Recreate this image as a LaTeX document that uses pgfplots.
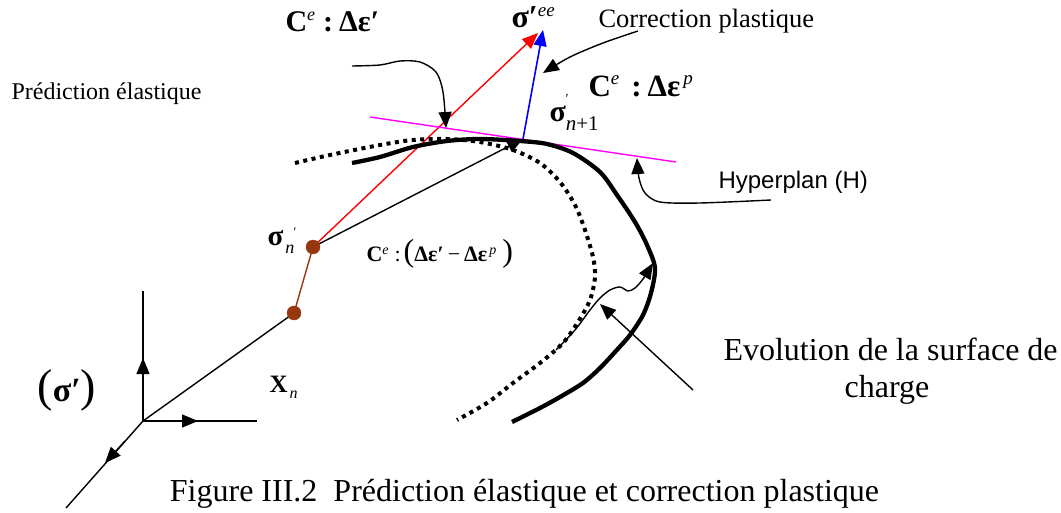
\documentclass[border=0pt]{standalone}
\usepackage{pgfplots}
\pgfplotsset{compat=1.18}
\usepackage{fontspec}
\setmainfont{Liberation Serif}
\newfontfamily\arial{Liberation Sans}
\usetikzlibrary{arrows.meta}
\definecolor{brn}{RGB}{150,55,15}
\definecolor{mag}{RGB}{255,0,255}
\definecolor{rd}{RGB}{255,0,0}
\definecolor{bl}{RGB}{0,0,255}
\newcommand{\fs}[1]{\fontsize{#1}{#1}\selectfont}
\begin{document}
\begin{tikzpicture}
\begin{axis}[
  width=1061pt, height=513pt, scale only axis,
  xmin=0, xmax=1061, ymin=0, ymax=513, y dir=reverse,
  hide axis, clip=false,
  every node/.style={inner sep=0pt},
  tip/.style={-{Triangle[length=16pt,width=13pt]}}
]
% bounding box
\addplot[draw=none] coordinates {(0,0) (1061,513)};
% reference frame
\addplot[black, line width=1.4pt] coordinates {(143,291) (143,421) (257,421)};
\addplot[black, line width=1.4pt] coordinates {(143,421) (66,508)};
\addplot[black, line width=1.4pt, tip] coordinates {(143,400) (143,358)};
\addplot[black, line width=1.4pt, tip] coordinates {(170,421) (198,421)};
\addplot[black, line width=1.4pt, tip] coordinates {(125,441) (105,463)};
% X_n line
\addplot[black, line width=1.4pt] coordinates {(143,421) (294,313)};
\addplot[brn, line width=1.4pt] coordinates {(294,313) (313,247)};
% prediction / correction
\addplot[rd, line width=1.4pt, tip] coordinates {(313,247) (538,33)};
\addplot[black, line width=1.4pt, tip] coordinates {(313,247) (523,139)};
\addplot[bl, line width=1.6pt, tip] coordinates {(523,139) (543,30)};
\addplot[mag, line width=1.4pt] coordinates {(370,117) (676,162)};
% surfaces
\addplot[black, line width=4.3pt, smooth] coordinates {
 (352,163) (380,157) (413,147) (447,141) (480,139) (520,141) (547,144) (573,153)
 (600,172) (617,195) (635,222) (647,245) (655,268) (651,293) (643,315) (630,335)
 (615,352) (600,368) (583,383) (560,397) (540,408) (512,422)};
\addplot[black, line width=4pt, dash pattern=on 4pt off 4.5pt, smooth] coordinates {
 (295,163) (330,155) (380,145) (413,140) (447,139) (480,142) (513,150) (540,163)
 (560,182) (575,205) (585,230) (593,257) (595,277) (590,300) (578,322) (563,343)
 (540,363) (513,383) (487,403) (457,420)};
% dots
\addplot[only marks, mark=*, mark size=7pt, color=brn] coordinates {(294,313) (313,247)};
% annotation arrows
\addplot[black, line width=1.4pt, smooth, tip] coordinates {
 (352,66) (380,65) (400,61) (420,62) (436,72) (443,92) (446,128)};
\addplot[black, line width=1.4pt, smooth, tip] coordinates {
 (638,31) (603,43) (570,57) (543,73)};
\addplot[black, line width=1.4pt, smooth, tip] coordinates {
 (771,200) (700,203) (660,202) (645,193) (639,178) (637,158)};
\addplot[black, line width=1.4pt, smooth, tip] coordinates {
 (556,350) (575,330) (590,310) (600,298) (610,290) (620,287) (628,291) (635,288) (643,279) (653,263)};
\addplot[black, line width=1.4pt, tip] coordinates {(693,390) (600,304)};
% texts
\node[anchor=base west] at (axis cs:8,100) {\fs{24}Prédiction élastique};
\node[anchor=base west] at (axis cs:595,28) {\fs{26.5}Correction plastique};
\node[anchor=base west] at (axis cs:715,189) {\arial\fs{24}Hyperplan (H)};
\node[anchor=base west] at (axis cs:720,360) {\fs{32}Evolution de la surface de};
\node[anchor=base] at (axis cs:887,397) {\fs{32}charge};
\node[anchor=base] at (axis cs:524.5,501) {\fs{32}Figure III.2\ \ Prédiction élastique et correction plastique};
% math-like labels
\node[anchor=base west] at (axis cs:282,32) {\fs{30}\textbf{C}\raisebox{11pt}{\fs{18}\textit{e}}\hspace{8pt}\textbf{:}\hspace{6pt}\textbf{Δε′}};
\node[anchor=base west] at (axis cs:508,28) {\fs{32}\textbf{σ′}\raisebox{11pt}{\fs{19}\textit{ee}}};
\node[anchor=base west] at (axis cs:585,97) {\fs{31}\textbf{C}\raisebox{12pt}{\fs{19}\textit{e}}\hspace{12pt}\textbf{:}\hspace{6pt}\textbf{Δε}\raisebox{12pt}{\fs{19}\hspace{3pt}\textit{p}}};
\node[anchor=base west] at (axis cs:546,122) {\fs{30}\textbf{σ}\raisebox{-9pt}{\fs{21}\textit{n}+1}};
\node[anchor=base west] at (axis cs:562,104) {\fs{14}′};
\node[anchor=base west] at (axis cs:264,246) {\fs{29}\textbf{σ}\raisebox{-8pt}{\fs{18}\hspace{2pt}\textit{n}}};
\node[anchor=base west] at (axis cs:290,237) {\fs{13}′};
\node[anchor=base west] at (axis cs:363,262) {\fs{22}\textbf{C}\raisebox{8pt}{\fs{14}\textit{e}}\hspace{6pt}:\hspace{3pt}{\fs{32}(}\textbf{Δε′}\hspace{4pt}−\hspace{4pt}\textbf{Δε}\raisebox{8pt}{\fs{14}\hspace{2pt}\textit{p}}\hspace{6pt}{\fs{32})}};
\node[anchor=base west] at (axis cs:34,401) {{\fs{46}(}\fs{34}\textbf{σ′}{\fs{46})}};
\node[anchor=base west] at (axis cs:266,392) {\fs{25}\textbf{X}\raisebox{-6pt}{\fs{16}\hspace{2pt}\textit{n}}};
\end{axis}
\end{tikzpicture}
\end{document}
